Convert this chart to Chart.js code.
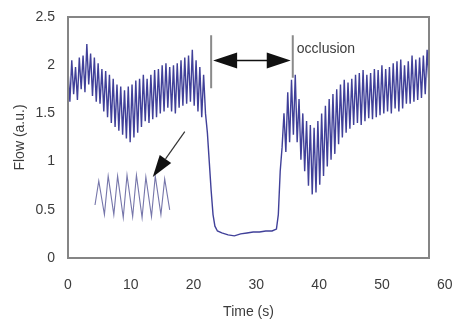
<!DOCTYPE html>
<html>
<head>
<meta charset="utf-8">
<script src="https://cdn.jsdelivr.net/npm/chart.js@4/dist/chart.umd.min.js"></script>
<style>
  html, body { margin: 0; padding: 0; background: #fff; }
  #wrap { width: 458px; height: 327px; position: relative; }
</style>
</head>
<body>
<div id="wrap"><canvas id="myChart"></canvas></div>
<script>
// flow trace (seconds / arbitrary units)
var timeSec = [
  0, 0.3, 0.6, 0.9, 1.2, 1.5, 1.8, 2.1, 2.4, 2.7, 3.0, 3.3, 3.6, 3.9, 4.2, 4.5, 4.8, 5.1, 5.4, 5.7,
  6.0, 6.3, 6.6, 6.9, 7.2, 7.5, 7.8, 8.1, 8.4, 8.7, 9.0, 9.3, 9.6, 9.9, 10.2, 10.5, 10.8, 11.1, 11.4, 11.7,
  12.0, 12.3, 12.6, 12.9, 13.2, 13.5, 13.8, 14.1, 14.4, 14.7, 15.0, 15.3, 15.6, 15.9, 16.2, 16.5, 16.8, 17.1, 17.4, 17.7,
  18.0, 18.3, 18.6, 18.9, 19.2, 19.5, 19.8, 20.1, 20.4, 20.7, 21.0, 21.3, 21.6, 21.9,
  22.2, 22.5, 22.8, 23.1, 23.4, 23.8, 24.5, 25.5, 26.5, 27.5, 28.5, 29.5, 30.5, 31.5, 32.5, 33.2, 33.5, 33.8, 34.1,
  34.4, 34.7, 35.0, 35.3, 35.6, 35.9, 36.2, 36.5, 36.8, 37.1, 37.4, 37.7, 38.0, 38.3, 38.6, 38.9, 39.2, 39.5, 39.8,
  40.1, 40.4, 40.7, 41.0, 41.3, 41.6, 41.9, 42.2, 42.5, 42.8, 43.1, 43.4, 43.7, 44.0, 44.3, 44.6, 44.9, 45.2, 45.5, 45.8,
  46.1, 46.4, 46.7, 47.0, 47.3, 47.6, 47.9, 48.2, 48.5, 48.8, 49.1, 49.4, 49.7, 50.0, 50.3, 50.6, 50.9, 51.2, 51.5, 51.8,
  52.1, 52.4, 52.7, 53.0, 53.3, 53.6, 53.9, 54.2, 54.5, 54.8, 55.1, 55.4, 55.7, 56.0, 56.3, 56.6, 56.9, 57.2, 57.5
];
var flowAu = [
  1.95, 1.62, 2.05, 1.7, 1.98, 1.64, 2.08, 1.75, 2.1, 1.72, 2.22, 1.8, 2.12, 1.68, 2.08, 1.62, 2.02, 1.6, 1.96, 1.52,
  1.94, 1.46, 1.9, 1.4, 1.86, 1.36, 1.8, 1.32, 1.78, 1.28, 1.74, 1.24, 1.78, 1.2, 1.8, 1.25, 1.84, 1.3, 1.86, 1.36,
  1.9, 1.42, 1.86, 1.4, 1.9, 1.44, 1.95, 1.46, 1.96, 1.5, 2.0, 1.52, 2.02, 1.56, 1.98, 1.52, 2.0, 1.5, 2.02, 1.56,
  2.05, 1.58, 2.08, 1.6, 2.1, 1.62, 2.16, 1.58, 2.05, 1.52, 1.98, 1.46, 1.9, 1.5,
  1.3, 1.0, 0.7, 0.45, 0.33, 0.28, 0.26, 0.24, 0.23, 0.25, 0.26, 0.27, 0.27, 0.28, 0.28, 0.3, 0.45, 0.9, 1.15,
  1.5, 1.1, 1.72, 1.2, 1.85, 1.28, 1.9, 1.2, 1.65, 1.02, 1.5, 0.9, 1.42, 0.75, 1.38, 0.66, 1.35, 0.68, 1.42,
  0.76, 1.5, 0.85, 1.58, 0.95, 1.65, 1.02, 1.7, 1.08, 1.75, 1.18, 1.8, 1.25, 1.85, 1.3, 1.82, 1.34, 1.86, 1.38, 1.9,
  1.4, 1.92, 1.38, 1.95, 1.42, 1.9, 1.45, 1.92, 1.44, 1.96, 1.46, 1.95, 1.48, 2.0, 1.5, 1.96, 1.52, 1.98, 1.5, 2.02,
  1.55, 2.04, 1.52, 2.06, 1.55, 2.0, 1.6, 2.04, 1.6, 2.1, 1.62, 2.06, 1.64, 2.08, 1.66, 2.1, 1.7, 2.16, 1.8
];

// zoomed-in pulsation inset
var insetTime = [4.3, 4.9, 5.8, 6.4, 7.3, 7.9, 8.8, 9.4, 10.3, 10.9, 11.8, 12.4, 13.3, 13.9, 14.8, 15.4, 16.2];
var insetFlow = [0.55, 0.8, 0.45, 0.85, 0.45, 0.85, 0.42, 0.86, 0.43, 0.86, 0.42, 0.84, 0.43, 0.85, 0.45, 0.82, 0.5];

var xTicks = [0, 10, 20, 30, 40, 50];
var yTicks = [0, 0.5, 1, 1.5, 2, 2.5];

// annotation positions in data units
var occStart = 22.8, occEnd = 35.8, occArrowY = 2.05;
var occTop = 2.31, occBottomL = 1.76, occBottomR = 1.87;
var pointerFrom = [18.6, 1.31], pointerTo = [13.5, 0.84];

function toPoints(xs, ys) {
    return xs.map(function (t, i) { return { x: t, y: ys[i] }; });
}

var textColor = '#3c3c3c';
var fontFam = '"Liberation Sans", Arial, sans-serif';

function arrowHead(ctx, x, y, dx, dy, len, half) {
    var d = Math.sqrt(dx * dx + dy * dy);
    var ux = dx / d, uy = dy / d;
    ctx.beginPath();
    ctx.moveTo(x, y);
    ctx.lineTo(x - ux * len - uy * half, y - uy * len + ux * half);
    ctx.lineTo(x - ux * len + uy * half, y - uy * len - ux * half);
    ctx.closePath();
    ctx.fill();
}

var extras = {
    id: 'extras',
    afterDraw: function (chart) {
        var ctx = chart.ctx, a = chart.chartArea;
        var xs = chart.scales.x, ys = chart.scales.y;
        ctx.save();
        // axis box
        ctx.strokeStyle = '#858585';
        ctx.lineWidth = 2;
        ctx.strokeRect(a.left, a.top, a.right - a.left, a.bottom - a.top);

        // occlusion markers
        var x1 = xs.getPixelForValue(occStart), x2 = xs.getPixelForValue(occEnd);
        ctx.strokeStyle = '#8a8a8a';
        ctx.lineWidth = 2;
        ctx.beginPath();
        ctx.moveTo(x1, ys.getPixelForValue(occTop));
        ctx.lineTo(x1, ys.getPixelForValue(occBottomL));
        ctx.moveTo(x2, ys.getPixelForValue(occTop));
        ctx.lineTo(x2, ys.getPixelForValue(occBottomR));
        ctx.stroke();

        var ay = ys.getPixelForValue(occArrowY);
        ctx.strokeStyle = '#111';
        ctx.fillStyle = '#111';
        ctx.lineWidth = 1.5;
        ctx.beginPath();
        ctx.moveTo(x1 + 10, ay);
        ctx.lineTo(x2 - 10, ay);
        ctx.stroke();
        arrowHead(ctx, x1 + 2, ay, -1, 0, 24, 8);
        arrowHead(ctx, x2 - 2, ay, 1, 0, 24, 8);

        ctx.font = '14px ' + fontFam;
        ctx.fillStyle = textColor;
        ctx.textBaseline = 'middle';
        ctx.textAlign = 'left';
        ctx.fillText('occlusion', x2 + 4, ay - 11);

        // pointer to inset
        var px1 = xs.getPixelForValue(pointerFrom[0]), py1 = ys.getPixelForValue(pointerFrom[1]);
        var px2 = xs.getPixelForValue(pointerTo[0]), py2 = ys.getPixelForValue(pointerTo[1]);
        ctx.strokeStyle = '#333';
        ctx.fillStyle = '#111';
        ctx.lineWidth = 1.2;
        ctx.beginPath();
        ctx.moveTo(px1, py1);
        ctx.lineTo(px1 + (px2 - px1) * 0.6, py1 + (py2 - py1) * 0.6);
        ctx.stroke();
        arrowHead(ctx, px2, py2, px2 - px1, py2 - py1, 22, 7);

        // the "60" label sits past the box edge
        ctx.fillStyle = textColor;
        ctx.textAlign = 'center';
        ctx.fillText('60', xs.getPixelForValue(60), a.bottom + 27);
        ctx.restore();
    }
};

var ctx = document.getElementById('myChart').getContext('2d');
var myChart = new Chart(ctx, {
    type: 'line',
    data: {
        datasets: [{
            label: 'flow',
            data: toPoints(timeSec, flowAu),
            borderColor: 'rgba(30, 30, 135, 0.85)',
            borderWidth: 1.4,
            pointRadius: 0,
            tension: 0
        }, {
            label: 'inset',
            data: toPoints(insetTime, insetFlow),
            borderColor: '#7676aa',
            borderWidth: 1.1,
            pointRadius: 0,
            tension: 0
        }]
    },
    options: {
        responsive: true,
        maintainAspectRatio: false,
        animation: false,
        layout: { padding: { top: 17, right: 29, left: 0, bottom: 0 } },
        plugins: { legend: { display: false }, tooltip: { enabled: false } },
        scales: {
            x: {
                type: 'linear',
                min: 0,
                max: 57.5,
                afterFit: function (s) { s.height = 69; },
                afterBuildTicks: function (s) { s.ticks = xTicks.map(function (v) { return { value: v }; }); },
                grid: { display: false },
                border: { display: false },
                ticks: { color: textColor, font: { size: 14, family: fontFam }, padding: 11, maxRotation: 0,
                    callback: function (v) { return String(v); } },
                title: { display: true, text: 'Time (s)', color: textColor, font: { size: 14, family: fontFam }, padding: { top: 0, bottom: 6 } }
            },
            y: {
                min: 0,
                max: 2.5,
                afterFit: function (s) { s.width = 68; },
                afterBuildTicks: function (s) { s.ticks = yTicks.map(function (v) { return { value: v }; }); },
                grid: { display: false },
                border: { display: false },
                ticks: { color: textColor, font: { size: 14, family: fontFam }, padding: 5,
                    callback: function (v) { return String(v); } },
                title: { display: true, text: 'Flow (a.u.)', color: textColor, font: { size: 14, family: fontFam }, padding: { top: 12, bottom: 0 } }
            }
        }
    },
    plugins: [extras]
});
</script>
</body>
</html>
